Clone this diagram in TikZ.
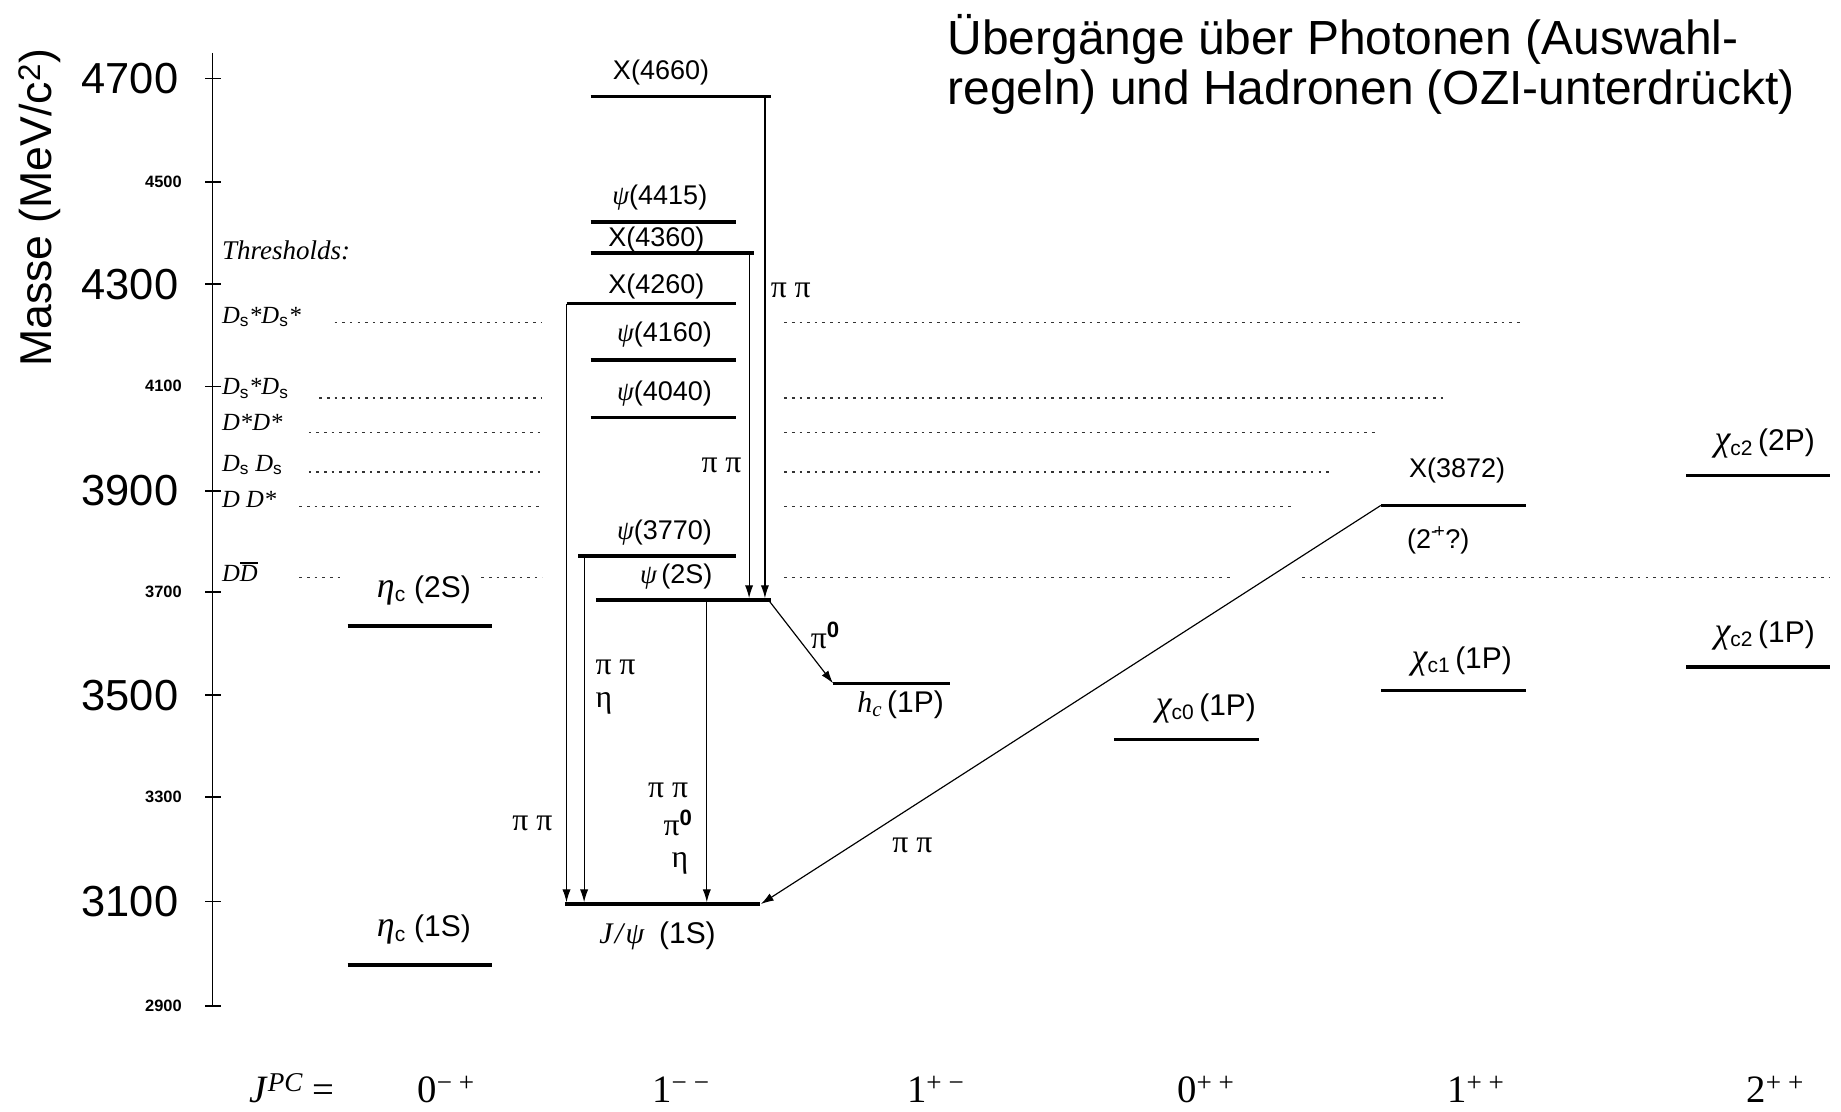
\documentclass[tikz,border=0pt]{standalone}
\usepackage{fontspec}
\setmainfont{Liberation Sans}
\newfontfamily\tms{Liberation Serif}
\usetikzlibrary{arrows.meta}
\newcommand{\myfs}[1]{\fontsize{#1}{#1}\selectfont}
\newcommand{\gk}[1]{{\tms\itshape #1}}
\newcommand{\gkB}[1]{{\tms\itshape\scalebox{1.2}{#1}}}
\newcommand{\sbs}[1]{\textsubscript{\normalfont #1}}
\newcommand{\barD}{\vbox{\hrule height 1.8pt\kern 1.2pt\hbox{D}}}
\begin{document}
\begin{tikzpicture}[x=1pt,y=-1pt,
  level/.style={line width=3pt, line cap=butt},
  trans/.style={line width=1pt, -{Latex[length=11pt,width=7pt]}},
  thr/.style={line width=0.9pt, dash pattern=on 2.2pt off 4.3pt, black!80},
  lab/.style={font=\myfs{23}, inner sep=0pt},
  labB/.style={font=\myfs{25.5}, inner sep=0pt},
  pil/.style={font=\tms\myfs{27}, inner sep=0pt},
  thl/.style={font=\tms\itshape\myfs{21}, inner sep=0pt, anchor=west},
  bigt/.style={font=\myfs{37}, inner sep=0pt, anchor=east},
  smt/.style={font=\bfseries\myfs{14}, inner sep=0pt, anchor=east},
  jpc/.style={font=\tms\myfs{33}, inner sep=0pt, anchor=base}
]
\useasboundingbox (0,0) rectangle (1568,947);

% ---------- axis ----------
\coordinate (axT) at (181,45);
\coordinate (axB) at (181,857);
\draw[line width=1.3pt] (axT) -- (axB);
\foreach \m/\yy in {4700/67,4500/155,4300/242,4100/329,3900/418,3700/504,3500/592,3300/679,3100/768,2900/857}{
  \draw[line width=1.3pt] (175,\yy) -- (188,\yy);
}
\node[bigt] (t4700) at (152,67) {4700};
\node[smt]  (t4500) at (155,155) {4500};
\node[bigt] (t4300) at (152,242) {4300};
\node[smt]  (t4100) at (155,329) {4100};
\node[bigt] (t3900) at (152,418) {3900};
\node[smt]  (t3700) at (155,504) {3700};
\node[bigt] (t3500) at (152,592) {3500};
\node[smt]  (t3300) at (155,679) {3300};
\node[bigt] (t3100) at (152,768) {3100};
\node[smt]  (t2900) at (155,857) {2900};
\node[rotate=90, font=\myfs{38}, inner sep=0pt] (ylab) at (34,177) {Masse (MeV/c\textsuperscript{2})};

% ---------- title ----------
\node[anchor=base west, font=\myfs{40.8}, inner sep=0pt] (title1) at (807,46) {Übergänge über Photonen (Auswahl-};
\node[anchor=base west, font=\myfs{40.8}, inner sep=0pt] (title2) at (807,89) {regeln) und Hadronen (OZI-unterdrückt)};

% ---------- thresholds ----------
\node[thl, font=\tms\itshape\myfs{23}] (thr0) at (189,213) {Thresholds:};
\node[thl] (thr1) at (189,270) {D\sbs{s}*D\sbs{s}*};
\node[thl] (thr2) at (189,331) {D\sbs{s}*D\sbs{s}};
\node[thl] (thr3) at (189,360) {D*D*};
\node[thl] (thr4) at (189,396) {D\sbs{s} D\sbs{s}};
\node[thl] (thr5) at (189,425) {D D*};
\node[thl] (thr6) at (189,487) {D\barD};

\draw[thr] (285,275) -- (462,275);  \draw[thr] (668,275) -- (1298,275);
\draw[thr] (272,339) -- (462,339);  \draw[thr] (668,339) -- (1230,339);
\draw[thr] (263,368) -- (462,368);  \draw[thr] (668,368) -- (1174,368);
\draw[thr] (263,402) -- (462,402);  \draw[thr] (668,402) -- (1133,402);
\draw[thr] (255,431) -- (462,431);  \draw[thr] (668,431) -- (1102,431);
\draw[thr] (255,492) -- (292,492);  \draw[thr] (410,492) -- (462,492);
\draw[thr] (668,492) -- (1049,492); \draw[thr] (1109,492) -- (1558,492);

% ---------- levels ----------
\coordinate (X4660a) at (503,82);    \coordinate (X4660b) at (657,82);
\coordinate (p4415a) at (503,189);   \coordinate (p4415b) at (627,189);
\coordinate (X4360a) at (503,215.5); \coordinate (X4360b) at (642,215.5);
\coordinate (X4260a) at (482.5,258.5); \coordinate (X4260b) at (627,258.5);
\coordinate (p4160a) at (503,306.5); \coordinate (p4160b) at (627,306.5);
\coordinate (p4040a) at (503,355.5); \coordinate (p4040b) at (627,355.5);
\coordinate (p3770a) at (492.5,473.5); \coordinate (p3770b) at (627,473.5);
\coordinate (p2Sa) at (507.5,511);   \coordinate (p2Sb) at (657,511);
\coordinate (Jpa) at (481,770);      \coordinate (Jpb) at (647,770);
\coordinate (e2Sa) at (296,533);     \coordinate (e2Sb) at (419,533);
\coordinate (e1Sa) at (296,822);     \coordinate (e1Sb) at (419,822);
\coordinate (hca) at (709.5,582);    \coordinate (hcb) at (809,582);
\coordinate (c0a) at (949,630);      \coordinate (c0b) at (1072,630);
\coordinate (c1a) at (1176,588);     \coordinate (c1b) at (1300,588);
\coordinate (X3872a) at (1176,430.5); \coordinate (X3872b) at (1300,430.5);
\coordinate (c22a) at (1436,405);    \coordinate (c22b) at (1559,405);
\coordinate (c21a) at (1436,568);    \coordinate (c21b) at (1559,568);

\foreach \l in {X4660,p4415,X4360,X4260,p4160,p4040,p3770,p2S,Jp,e2S,e1S,hc,c0,c1,X3872,c22,c21}{
  \draw[level] (\l a) -- (\l b);
}

% level labels
\node[lab] (lX4660) at (563,62) {X(4660)};
\node[lab] (l4415) at (562,168) {\gk{ψ}(4415)};
\node[lab] (lX4360) at (559,204) {X(4360)};
\node[lab] (lX4260) at (559,244) {X(4260)};
\node[lab] (l4160) at (566,285) {\gk{ψ}(4160)};
\node[lab] (l4040) at (566,335) {\gk{ψ}(4040)};
\node[lab] (l3770) at (566,454) {\gk{ψ}(3770)};
\node[lab] (l2S) at (576,491) {\gk{ψ}\,(2S)};
\node[labB] (lJp) at (560,797) {\gk{J\kern2pt/\kern2ptψ}\enspace(1S)};
\node[labB] (le2S) at (361,503) {\gkB{η}\sbs{c} (2S)};
\node[labB] (le1S) at (361,792) {\gkB{η}\sbs{c} (1S)};
\node[labB] (lhc) at (767,600) {\gk{h\textsubscript{c}}\,(1P)};
\node[labB] (lc0) at (1027,603) {\gkB{χ}\sbs{c0}\,(1P)};
\node[labB] (lc1) at (1245,563) {\gkB{χ}\sbs{c1}\,(1P)};
\node[lab] (lX3872) at (1241,401) {X(3872)};
\node[lab] (lX3872b) at (1225,460) {(2\textsuperscript{-\kern-0.2em+}?)};
\node[labB] (lc22) at (1503,378) {\gkB{χ}\sbs{c2}\,(2P)};
\node[labB] (lc21) at (1503,541) {\gkB{χ}\sbs{c2}\,(1P)};

% ---------- transitions ----------
\coordinate (s1) at (651.5,82);   \coordinate (e1) at (651.5,509.5);
\coordinate (s2) at (638,215.5);  \coordinate (e2) at (638,509.5);
\coordinate (s3) at (482.5,258.5); \coordinate (e3) at (482.5,768.5);
\coordinate (s4) at (497.5,473.5); \coordinate (e4) at (497.5,768.5);
\coordinate (s5) at (602,511);    \coordinate (e5) at (602,768.5);
\coordinate (s6) at (654.5,511);  \coordinate (e6) at (709.5,582);
\coordinate (s7) at (1176,430.5); \coordinate (e7) at (648,770);
\draw[trans] (s1) -- (e1);
\draw[trans] (s2) -- (e2);
\draw[trans] (s3) -- (e3);
\draw[trans] (s4) -- (e4);
\draw[trans] (s5) -- (e5);
\draw[trans] (s6) -- (e6);
\draw[trans] (s7) -- (e7);

\node[pil] (pp1) at (673.5,247) {π π};
\node[pil] (pp2) at (614.5,396) {π π};
\node[pil] (pp3) at (453.5,701) {π π};
\node[pil, anchor=west] (pp4) at (507,568) {π π};
\node[pil, anchor=west] (eta4) at (507,599) {η};
\node[pil] (pp5) at (569,673) {π π};
\node[pil] (pz5) at (577.5,701) {π\textsuperscript{\normalfont\bfseries 0}};
\node[pil] (eta5) at (579,735) {η};
\node[pil] (pz6) at (703,541) {π\textsuperscript{\normalfont\bfseries 0}};
\node[pil] (pp7) at (777,720) {π π};

% ---------- J^PC row ----------
\node[jpc, anchor=base west] (jpc0) at (212,939) {\textit{J}\textsuperscript{\itshape PC} =};
\node[jpc] (jpc1) at (380,939) {0\textsuperscript{− +}};
\node[jpc] (jpc2) at (580,939) {1\textsuperscript{− −}};
\node[jpc] (jpc3) at (797,939) {1\textsuperscript{+ −}};
\node[jpc] (jpc4) at (1027,939) {0\textsuperscript{+ +}};
\node[jpc] (jpc5) at (1257,939) {1\textsuperscript{+ +}};
\node[jpc] (jpc6) at (1512,939) {2\textsuperscript{+ +}};
\end{tikzpicture}
\end{document}
